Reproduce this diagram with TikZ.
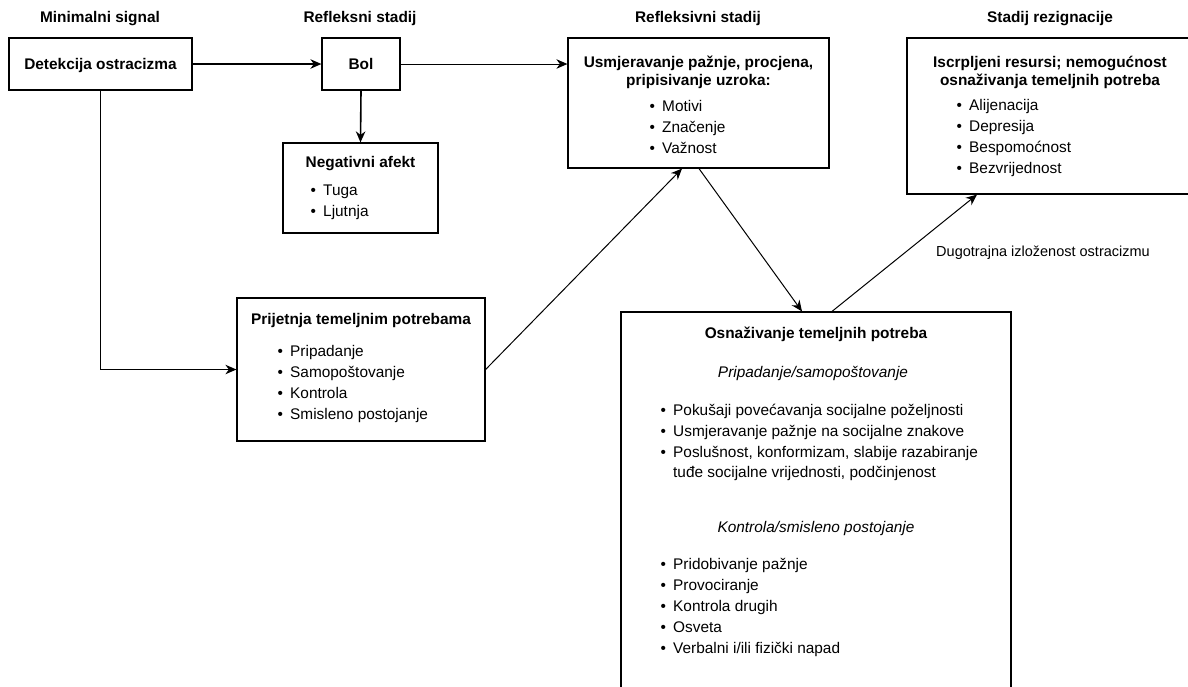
\documentclass[tikz,border=0pt]{standalone}
\usepackage{fontspec}
\setmainfont{Liberation Sans}
\usetikzlibrary{arrows.meta}
\newcommand{\myitem}[1]{\makebox[12.7pt][l]{•}#1}
\tikzset{
  box/.style={draw, line width=1.2pt, inner sep=0pt, rectangle},
  txt/.style={inner sep=0pt, font=\fontsize{15.4}{18}\selectfont, anchor=base west},
  ttl/.style={inner sep=0pt, font=\fontsize{15.4}{18}\selectfont\bfseries, anchor=base},
  itl/.style={inner sep=0pt, font=\fontsize{15.4}{18}\selectfont\itshape, anchor=base},
  lbl/.style={inner sep=0pt, font=\fontsize{14.5}{18}\selectfont, anchor=base},
  thickarrow/.style={line width=1.6pt, -{Stealth[length=11pt,width=9.5pt,inset=3.5pt]}},
  thinarrow/.style={line width=1pt, -{Stealth[length=11pt,width=9.5pt,inset=3.5pt]}},
}
\begin{document}
\begin{tikzpicture}[x=1pt,y=-1pt]
\useasboundingbox (0,0) rectangle (1188,686);
\clip (0,0) rectangle (1188,686);

% headers
\node[ttl] (h1) at (100,22) {Minimalni signal};
\node[ttl] (h2) at (360,22) {Refleksni stadij};
\node[ttl] (h3) at (698,22) {Refleksivni stadij};
\node[ttl] (h4) at (1050,22) {Stadij rezignacije};

% boxes
\node[box, minimum width=183pt, minimum height=52pt] (det) at (100.5,64) {};
\node[box, minimum width=78pt, minimum height=52pt] (bol) at (361,64) {};
\node[box, minimum width=155pt, minimum height=90pt] (neg) at (360.5,188) {};
\node[box, minimum width=261pt, minimum height=130pt] (refl) at (698.5,103) {};
\node[box, minimum width=286pt, minimum height=156pt] (rez) at (1050,116) {};
\node[box, minimum width=248pt, minimum height=143pt] (prij) at (361,369.5) {};
\node[box, minimum width=390pt, minimum height=408pt] (osn) at (816,516) {};

% box texts
\node[ttl] (detT) at (100.5,69) {Detekcija ostracizma};
\node[ttl] (bolT) at (361,69) {Bol};

\node[ttl] (negT) at (360.5,167) {Negativni afekt};
\node[txt] (neg1) at (310.3,195) {\myitem{Tuga}};
\node[txt] (neg2) at (310.3,216) {\myitem{Ljutnja}};

\node[ttl] (reflT1) at (698.5,67) {Usmjeravanje pažnje, procjena,};
\node[ttl] (reflT2) at (698.5,85) {pripisivanje uzroka:};
\node[txt] (refl1) at (649.3,111) {\myitem{Motivi}};
\node[txt] (refl2) at (649.3,132) {\myitem{Značenje}};
\node[txt] (refl3) at (649.3,153) {\myitem{Važnost}};

\node[ttl] (rezT1) at (1050,67) {Iscrpljeni resursi; nemogućnost};
\node[ttl] (rezT2) at (1050,85) {osnaživanja temeljnih potreba};
\node[txt] (rez1) at (956.3,110) {\myitem{Alijenacija}};
\node[txt] (rez2) at (956.3,131) {\myitem{Depresija}};
\node[txt] (rez3) at (956.3,152) {\myitem{Bespomoćnost}};
\node[txt] (rez4) at (956.3,173) {\myitem{Bezvrijednost}};

\node[ttl] (prijT) at (361,324) {Prijetnja temeljnim potrebama};
\node[txt] (prij1) at (277.3,356) {\myitem{Pripadanje}};
\node[txt] (prij2) at (277.3,377) {\myitem{Samopoštovanje}};
\node[txt] (prij3) at (277.3,398) {\myitem{Kontrola}};
\node[txt] (prij4) at (277.3,419) {\myitem{Smisleno postojanje}};

\node[ttl] (osnT) at (816,338) {Osnaživanje temeljnih potreba};
\node[itl] (osnS1) at (813,377) {Pripadanje/samopoštovanje};
\node[txt] (osn1) at (660.3,415) {\myitem{Pokušaji povećavanja socijalne poželjnosti}};
\node[txt] (osn2) at (660.3,436) {\myitem{Usmjeravanje pažnje na socijalne znakove}};
\node[txt] (osn3) at (660.3,457) {\myitem{Poslušnost, konformizam, slabije razabiranje}};
\node[txt] (osn3b) at (673,477) {tuđe socijalne vrijednosti, podčinjenost};
\node[itl] (osnS2) at (816,532) {Kontrola/smisleno postojanje};
\node[txt] (osn4) at (660.3,569) {\myitem{Pridobivanje pažnje}};
\node[txt] (osn5) at (660.3,590) {\myitem{Provociranje}};
\node[txt] (osn6) at (660.3,611) {\myitem{Kontrola drugih}};
\node[txt] (osn7) at (660.3,632) {\myitem{Osveta}};
\node[txt] (osn8) at (660.3,653) {\myitem{Verbalni i/ili fizički napad}};

% label
\node[lbl] (lab) at (1043,256) {Dugotrajna izloženost ostracizmu};

% connectors
\draw[thickarrow] (det.east) -- (bol.west);
\draw[thinarrow] (bol.east) -- (bol.east -| refl.west);
\draw[thickarrow] (bol.south) -- (neg.north);
\draw[thinarrow] (det.south) |- (prij.west);
\draw[thinarrow] (prij.east) -- ([xshift=-16.5pt]refl.south);
\draw[thinarrow] ([xshift=0.5pt]refl.south) -- ([xshift=-14pt]osn.north);
\draw[thinarrow] ([xshift=16pt]osn.north) -- ([xshift=-73pt]rez.south);
\end{tikzpicture}
\end{document}
